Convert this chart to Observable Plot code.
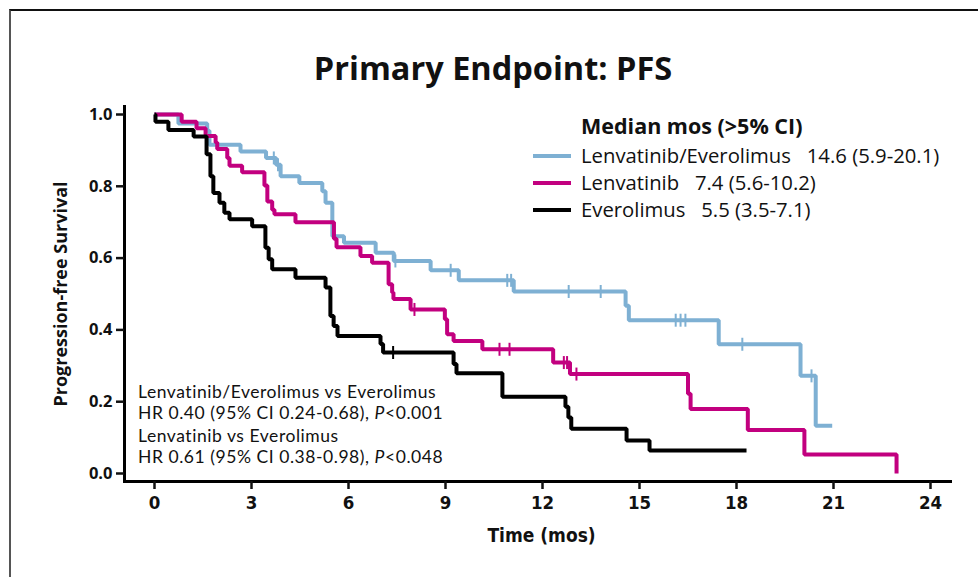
<!DOCTYPE html>
<html><head><meta charset="utf-8">
<script src="https://cdn.jsdelivr.net/npm/d3@7"></script>
<script src="https://cdn.jsdelivr.net/npm/@observablehq/plot@0.6"></script>
<style>
body{margin:0;background:#fff;}
#wrap{position:relative;width:978px;height:577px;overflow:hidden;font-family:"Open Sans",sans-serif;color:#111;background:#fff;}
#border{position:absolute;left:9px;top:9px;right:-10px;bottom:-10px;border-left:2px solid #555;border-top:2px solid #111;}
#title{position:absolute;left:4px;top:44px;width:978px;text-align:center;font-weight:700;font-size:32.5px;line-height:48px;}
#chart{position:absolute;left:0;top:90px;}
#legend{position:absolute;left:533px;top:109px;font-size:20.3px;}
#legend .hd{font-weight:700;font-size:21.5px;margin-left:48px;height:33px;line-height:33px;}
#legend .row{height:27px;line-height:27px;display:flex;align-items:center;white-space:pre;}
#legend .sw{width:38px;height:4px;margin-right:10px;}
#annot{position:absolute;left:138px;top:381px;font-family:Lato,"Open Sans",sans-serif;font-size:17.5px;line-height:21px;letter-spacing:0.55px;}
#annot .ln{height:21px;white-space:nowrap;}
#annot .gap{height:2px;}
</style></head>
<body><div id="wrap"><div id="border"></div><div id="title">Primary Endpoint: PFS</div><div id="chart"></div>
<div id="legend"></div>
<div id="annot">
<div class="ln">Lenvatinib/Everolimus vs Everolimus</div>
<div class="ln">HR 0.40 (95% CI 0.24-0.68), <i>P</i>&lt;0.001</div>
<div class="gap"></div>
<div class="ln">Lenvatinib vs Everolimus</div>
<div class="ln">HR 0.61 (95% CI 0.38-0.98), <i>P</i>&lt;0.048</div>
</div>
</div>
<script>
// ---- data ----
const seriesNames = ["Lenvatinib/Everolimus", "Lenvatinib", "Everolimus"];
const seriesColors = ["#7eb0d3", "#c2007f", "#000000"];
const legendValues = ["14.6 (5.9-20.1)", "7.4 (5.6-10.2)", "5.5 (3.5-7.1)"];

const leTimes = [0, 0.74, 1.63, 1.7, 2.66, 3.45, 3.76, 3.9, 4.48, 5.19, 5.29, 5.5, 5.86, 6.84, 7.4, 8.54, 9.41, 11.11, 14.57, 14.67, 17.45, 19.98, 20.45];
const leSurv  = [1.0, 0.975, 0.955, 0.916, 0.897, 0.879, 0.86, 0.828, 0.809, 0.786, 0.754, 0.661, 0.643, 0.615, 0.592, 0.566, 0.538, 0.507, 0.467, 0.427, 0.36, 0.272, 0.133];
const leEnd = 20.96;
const leCensor = [3.69, 3.82, 7.45, 9.16, 10.91, 11.03, 12.81, 13.8, 16.12, 16.27, 16.42, 18.18, 20.32];

const lTimes = [0, 0.84, 1.3, 1.58, 1.89, 1.94, 2.25, 2.32, 2.71, 3.4, 3.49, 3.64, 3.71, 4.36, 5.55, 5.63, 6.37, 6.73, 7.24, 7.35, 7.39, 7.92, 8.98, 9.05, 9.25, 10.14, 12.33, 12.85, 16.5, 16.58, 18.35, 20.1, 22.95];
const lSurv  = [1.0, 0.98, 0.962, 0.94, 0.922, 0.904, 0.879, 0.857, 0.839, 0.802, 0.758, 0.735, 0.722, 0.70, 0.654, 0.63, 0.606, 0.587, 0.527, 0.504, 0.486, 0.457, 0.43, 0.388, 0.369, 0.346, 0.309, 0.277, 0.222, 0.18, 0.121, 0.053, 0.0];
const lEnd = 22.95;
const lCensor = [8.04, 10.67, 10.98, 12.66, 12.76, 13.05];

const eTimes = [0, 0.03, 0.43, 1.21, 1.61, 1.73, 1.82, 2.01, 2.16, 2.32, 3.02, 3.43, 3.53, 3.64, 4.36, 5.29, 5.44, 5.54, 5.66, 6.99, 7.07, 9.25, 9.34, 10.76, 12.71, 12.8, 12.89, 14.6, 15.31];
const eSurv  = [1.0, 0.98, 0.957, 0.939, 0.889, 0.828, 0.781, 0.754, 0.726, 0.708, 0.689, 0.629, 0.597, 0.569, 0.545, 0.518, 0.439, 0.411, 0.383, 0.361, 0.337, 0.305, 0.279, 0.214, 0.186, 0.156, 0.125, 0.092, 0.064];
const eEnd = 18.31;
const eCensor = [7.38];

const xTicks = [0, 3, 6, 9, 12, 15, 18, 21, 24];
const yTicks = [0, 0.2, 0.4, 0.6, 0.8, 1.0];
const xLabel = "Time (mos)";
const yLabel = "Progression-free Survival";

// ---- build tables ----
const raw = [
  [leTimes, leSurv, leEnd, leCensor],
  [lTimes, lSurv, lEnd, lCensor],
  [eTimes, eSurv, eEnd, eCensor]
];
const lineData = [], censorData = [];
raw.forEach(([T, S, end, C], k) => {
  T.forEach((t, i) => lineData.push({series: seriesNames[k], t, s: S[i]}));
  lineData.push({series: seriesNames[k], t: end, s: S[S.length - 1]});
  C.forEach(c => {
    let s = S[0];
    for (let i = 0; i < T.length; i++) if (T[i] <= c) s = S[i];
    censorData.push({series: seriesNames[k], t: c, s});
  });
});

const tickSymbol = {draw(ctx, size) { const r = Math.sqrt(size / Math.PI); ctx.moveTo(0, -r); ctx.lineTo(0, r); }};
const color = {domain: seriesNames, range: seriesColors};

const marks = [
  Plot.frame({anchor: "left", stroke: "#000", strokeWidth: 3}),
  Plot.frame({anchor: "bottom", stroke: "#000", strokeWidth: 3}),
  Plot.axisY(yTicks, {tickSize: 8, tickPadding: 4, strokeWidth: 2.5, tickFormat: d => d.toFixed(1),
    label: yLabel, labelArrow: "none", labelAnchor: "center", labelOffset: 70}),
  Plot.axisX(xTicks, {tickSize: 8, tickPadding: 6, strokeWidth: 2.5, tickFormat: d => String(d),
    label: xLabel, labelArrow: "none", labelAnchor: "center", labelOffset: 60})
];
seriesNames.forEach(name => {
  marks.push(Plot.line(lineData.filter(d => d.series === name), {x: "t", y: "s", stroke: "series", strokeWidth: 4, curve: "step-after", strokeLinejoin: "miter", strokeLinecap: "butt"}));
  marks.push(Plot.dot(censorData.filter(d => d.series === name), {x: "t", y: "s", stroke: "series", fill: "none", symbol: tickSymbol, r: 6.5, strokeWidth: 2}));
});

const chart = Plot.plot({
  width: 978, height: 487,
  marginLeft: 124, marginRight: 28, marginTop: 16, marginBottom: 96,
  x: {domain: [0, 24], insetLeft: 30, insetRight: 20},
  y: {domain: [0, 1], insetTop: 8, insetBottom: 8},
  color,
  style: {background: "transparent", overflow: "visible"},
  marks
});
document.getElementById("chart").appendChild(chart);

const svg = d3.select(chart);
svg.selectAll('[aria-label="y-axis tick label"]')
  .attr("font-family", "'Open Sans', sans-serif").attr("font-size", 16.5).attr("font-weight", 700).attr("fill", "#111");
svg.selectAll('[aria-label="x-axis tick label"]')
  .attr("font-family", "'Liberation Sans Narrow', 'DejaVu Sans Condensed', 'Roboto Condensed', Roboto, sans-serif").attr("font-size", 18.5).attr("font-weight", 700).attr("fill", "#111");
svg.selectAll('[aria-label="y-axis label"]')
  .attr("font-family", "'Open Sans', sans-serif").attr("font-size", 18).attr("font-weight", 700).attr("fill", "#111");
svg.selectAll('[aria-label="y-axis label"] text').text(yLabel);
svg.selectAll('[aria-label="x-axis label"]')
  .attr("font-family", "'Liberation Sans Narrow', 'DejaVu Sans Condensed', Roboto, sans-serif").attr("font-size", 19).attr("font-weight", 700).attr("fill", "#111")
  .attr("transform", function() { const t = this.getAttribute("transform") || ""; return t + " translate(4,0)"; });
svg.selectAll('[aria-label="x-axis label"] text').text(xLabel);

// legend
const leg = d3.select("#legend");
leg.append("div").attr("class", "hd").text("Median mos (>5% CI)");
seriesNames.forEach((n, i) => {
  const row = leg.append("div").attr("class", "row");
  row.append("div").attr("class", "sw").style("background", seriesColors[i]);
  row.append("span").text(n + "   " + legendValues[i]);
});
</script>
</body></html>
